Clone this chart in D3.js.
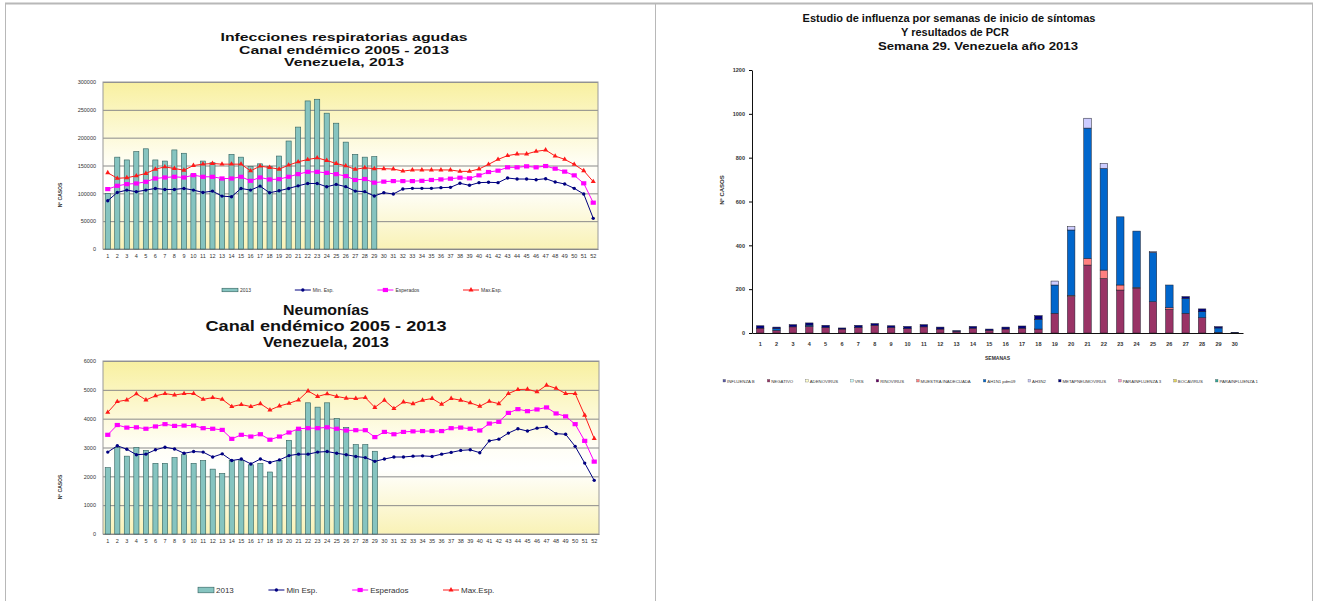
<!DOCTYPE html>
<html>
<head>
<meta charset="utf-8">
<script src="https://d3js.org/d3.v7.min.js"></script>
<style>
  body { margin: 0; background: #fff; }
  svg text { font-family: "Liberation Sans", Arial, sans-serif; }
  .grid line { stroke: #8a8a8a; }
  .grid .domain { display: none; }
</style>
</head>
<body>
<svg id="page" width="1318" height="601"></svg>
<script>
// ---- datos: canal endemico (semanas 1-52) ----
const semanas52 = [1,2,3,4,5,6,7,8,9,10,11,12,13,14,15,16,17,18,19,20,21,22,23,24,25,26,
  27,28,29,30,31,32,33,34,35,36,37,38,39,40,41,42,43,44,45,46,47,48,49,50,51,52];

// Infecciones respiratorias agudas
const iraTitulo = ["Infecciones respiratorias agudas", "Canal endémico 2005 - 2013", "Venezuela, 2013"];
const iraTicks = [0, 50000, 100000, 150000, 200000, 250000, 300000];
const iraCasos2013 = [100000,165000,160000,175000,180000,160000,158000,178000,172000,135000,158000,155000,125000,170000,
  165000,148000,153000,148000,167000,194000,219000,266000,269000,244000,226000,192000,170000,165000,166000];
const iraMin = [86600,101600,105800,102800,105800,108800,107000,107000,108800,105800,101600,104000,95000,93800,108800,
  105800,113000,101000,104600,108800,113500,117700,117700,111800,116000,112000,104000,103000,95200,101200,98800,107800,
  109000,109000,109000,110200,110800,118000,114400,119200,119800,119200,127500,125700,125700,124500,126300,120400,116800,
  109000,98800,55100];
const iraEsperados = [107600,113500,116500,117700,120700,126700,128500,129700,128500,132700,129700,129700,126700,126700,
  129700,122500,128500,124900,125500,129700,134500,138600,138600,136800,134500,131000,124000,125700,119200,121000,122000,
  122000,122000,122500,124000,125000,126300,128000,127000,132300,138300,140700,146700,146700,148500,146700,149000,144300,
  139000,132300,118000,83200];
const iraMax = [137000,127000,128000,131500,135600,143400,147600,144600,141600,150000,152400,153600,152400,152400,152400,
  140400,148800,146400,143400,150600,156600,160700,163700,159000,153600,149400,143000,146000,144300,144300,143700,140000,
  142000,142000,142000,142000,142000,139500,139500,143700,152000,161000,167700,170700,170700,175400,177800,167000,161000,
  152000,140700,121000];
const iraLeyenda = ["2013", "Min. Esp.", "Esperados", "Max.Esp."];

// Neumonias
const neuTitulo = ["Neumonías", "Canal endémico 2005 - 2013", "Venezuela, 2013"];
const neuTicks = [0, 1000, 2000, 3000, 4000, 5000, 6000];
const neuCasos2013 = [2300,3000,2700,3000,2900,2450,2450,2650,2750,2450,2550,2250,2100,2550,2550,2400,2450,2150,2550,
  3250,3600,4550,4400,4550,4000,3700,3100,3100,2870];
const neuMin = [2840,3060,2940,2750,2770,2920,3010,2950,2800,2860,2840,2670,2780,2550,2600,2430,2600,2480,2570,2720,2770,
  2770,2840,2860,2800,2750,2690,2650,2520,2600,2670,2670,2700,2710,2690,2770,2830,2900,2920,2820,3230,3290,3500,3650,3570,
  3670,3710,3480,3460,3040,2460,1860];
const neuEsperados = [3440,3780,3690,3700,3650,3730,3810,3750,3760,3760,3670,3650,3610,3300,3440,3380,3460,3270,3380,3520,
  3650,3670,3670,3700,3650,3590,3600,3600,3360,3540,3460,3540,3560,3570,3570,3570,3670,3690,3650,3590,3830,3890,4200,4330,
  4260,4320,4390,4180,4080,3810,3230,2510];
const neuMax = [4220,4590,4650,4860,4650,4790,4870,4820,4870,4870,4670,4730,4670,4420,4490,4420,4520,4300,4440,4530,4650,
  4960,4770,4860,4770,4710,4700,4730,4390,4640,4350,4580,4520,4640,4700,4500,4700,4640,4550,4430,4600,4520,4870,5010,5020,
  4930,5160,5050,4870,4870,4120,3310];
const neuLeyenda = ["2013", "Min Esp.", "Esperados", "Max.Esp."];

// ---- datos: estudio de influenza (semanas 1-30) ----
const fluTitulo = ["Estudio de influenza por semanas de inicio de síntomas", "Y resultados de PCR", "Semana 29. Venezuela año 2013"];
const semanas30 = [1,2,3,4,5,6,7,8,9,10,11,12,13,14,15,16,17,18,19,20,21,22,23,24,25,26,27,28,29,30];
const fluTicks = [0, 200, 400, 600, 800, 1000, 1200];
const fluSeries = ["INFLUENZA B", "NEGATIVO", "ADENOVIRUS", "VRS", "RINOVIRUS", "MUESTRA INADECUADA", "AH1N1 pdm09",
  "AH3N2", "METAPNEUMOVIRUS", "PARAINFLUENZA 3", "BOCAVIRUS", "PARAINFLUENZA 1"];
const fluColores = ["#5a5aa8", "#993366", "#ffffcc", "#ccffff", "#660066", "#ff8080", "#0066cc",
  "#ccccff", "#000080", "#ff99cc", "#e6d65c", "#33a899"];
const influenzaB  = [0,0,0,0,0,0,0,0,0,0,0,0,0,0,0,0,0,0,0,0,0,0,0,0,0,0,0,0,0,0];
const negativo    = [22,12,28,30,25,18,25,35,25,20,28,18,7,22,12,18,22,18,90,166,310,249,196,204,143,108,90,70,3,0];
const adenovirus  = [0,0,0,0,0,0,0,0,0,0,0,0,0,0,0,0,0,0,0,0,0,0,0,0,0,0,0,0,0,0];
const vrs         = [0,0,0,0,0,0,0,0,0,0,0,0,0,0,0,0,0,0,0,0,0,0,0,0,0,0,0,0,0,0];
const rinovirus   = [0,0,0,0,0,0,0,0,0,0,0,0,0,0,0,0,0,0,0,0,0,0,0,0,0,0,0,0,0,0];
const inadecuada  = [0,0,0,0,0,0,0,0,0,0,0,0,0,0,0,0,0,0,0,6,30,38,23,4,0,7,0,0,0,0];
const ah1n1       = [0,8,0,6,0,0,0,0,0,0,0,0,0,0,0,0,0,45,129,298,595,464,311,257,225,104,68,27,20,2];
const ah3n2       = [0,0,0,0,0,0,0,0,0,0,0,0,0,0,0,0,0,0,18,15,45,23,0,0,3,0,0,0,0,0];
const metapneumo  = [11,7,10,10,10,5,10,8,8,10,10,9,4,8,6,9,10,16,0,0,0,0,0,0,0,0,8,13,6,1];
const parainf3    = [0,0,0,0,0,0,0,0,0,0,0,0,0,0,0,0,0,0,0,0,0,0,0,0,0,0,0,0,0,0];
const bocavirus   = [0,0,0,0,0,0,0,0,0,0,0,0,0,0,0,0,0,0,0,0,0,0,0,0,0,0,0,0,0,0];
const parainf1    = [0,0,0,0,0,0,0,0,0,0,0,0,0,0,0,0,0,0,0,0,0,0,0,0,0,0,0,0,0,0];

const svg = d3.select("#page");
const defs = svg.append("defs");

// yellow - white - yellow fill like the excel plot area
const grad = defs.append("linearGradient").attr("id", "fondo")
  .attr("x1", 0).attr("y1", 0).attr("x2", 0).attr("y2", 1);
[[0, "#f8f0a0"], [0.48, "#fffef4"], [0.62, "#ffffff"], [1, "#f9f2b6"]]
  .forEach(([o, c]) => grad.append("stop").attr("offset", o).attr("stop-color", c));

// frame of the slide table
const frame = svg.append("g").attr("stroke", "#b8b8b8");
frame.append("line").attr("x1", 5).attr("x2", 1313).attr("y1", 3.5).attr("y2", 3.5).attr("stroke-width", 2);
frame.append("line").attr("x1", 5.5).attr("x2", 5.5).attr("y1", 3).attr("y2", 601);
frame.append("line").attr("x1", 655.5).attr("x2", 655.5).attr("y1", 3).attr("y2", 601);
frame.append("line").attr("x1", 1312.5).attr("x2", 1312.5).attr("y1", 3).attr("y2", 601);

function drawCanal(cfg) {
  const g = svg.append("g");
  const x = d3.scaleBand().domain(semanas52).range([cfg.left, cfg.right])
    .paddingInner(0.46).paddingOuter(0.23);
  const y = d3.scaleLinear().domain([0, d3.max(cfg.ticks)]).range([cfg.bottom, cfg.top]);
  const cx = w => x(w) + x.bandwidth() / 2;

  // titles
  cfg.title.forEach((t, i) => {
    g.append("text")
      .attr("x", cfg.titleX).attr("y", cfg.titleY + i * cfg.titleGap)
      .attr("text-anchor", "middle").attr("font-weight", "bold")
      .attr("font-size", cfg.titleSize).attr("fill", "#111")
      .attr("textLength", cfg.titleWidths[i]).attr("lengthAdjust", "spacingAndGlyphs")
      .text(t);
  });

  g.append("rect").attr("x", cfg.left).attr("y", cfg.top)
    .attr("width", cfg.right - cfg.left).attr("height", cfg.bottom - cfg.top)
    .attr("fill", "url(#fondo)");

  // gridlines + y labels
  g.append("g").attr("class", "grid")
    .attr("transform", "translate(" + cfg.left + ",0)")
    .call(d3.axisLeft(y).tickValues(cfg.ticks).tickSize(-(cfg.right - cfg.left))
      .tickPadding(7).tickFormat(d3.format("d")))
    .call(a => a.selectAll("text").attr("font-size", cfg.tickSize).attr("fill", "#333"));

  g.append("rect").attr("x", cfg.left).attr("y", cfg.top)
    .attr("width", cfg.right - cfg.left).attr("height", cfg.bottom - cfg.top)
    .attr("fill", "none").attr("stroke", "#9a9a9a");

  // x labels
  g.append("g").attr("transform", "translate(0," + cfg.bottom + ")")
    .call(d3.axisBottom(x).tickSize(0).tickPadding(5))
    .call(a => a.select(".domain").attr("stroke", "#888"))
    .call(a => a.selectAll("text").attr("font-size", cfg.tickSize).attr("fill", "#333"));

  // 2013 bars
  const barData = cfg.bars.map((v, i) => ({ w: semanas52[i], v }));
  g.selectAll("rect.bar").data(barData).join("rect")
    .attr("class", "bar")
    .attr("x", d => x(d.w)).attr("width", x.bandwidth())
    .attr("y", d => y(d.v)).attr("height", d => y(0) - y(d.v))
    .attr("fill", "#86c4c0").attr("stroke", "#2f5f5c").attr("stroke-width", 0.6);

  // channel lines
  const series = [
    { vals: cfg.max, color: "#ff1a1a", mark: "tri" },
    { vals: cfg.esp, color: "#ff00ff", mark: "sq" },
    { vals: cfg.min, color: "#000080", mark: "dot" }
  ];
  const line = d3.line().x((d, i) => cx(semanas52[i])).y(d => y(d));
  series.forEach(s => {
    g.append("path").datum(s.vals).attr("d", line)
      .attr("fill", "none").attr("stroke", s.color).attr("stroke-width", 1);
    const pts = g.append("g").selectAll("path").data(s.vals).join("path")
      .attr("transform", (d, i) => "translate(" + cx(semanas52[i]) + "," + y(d) + ")")
      .attr("fill", s.color);
    if (s.mark === "tri") pts.attr("d", d3.symbol(d3.symbolTriangle, 11));
    if (s.mark === "sq") pts.attr("d", "M-2.6,-2.1h5.2v4.2h-5.2z");
    if (s.mark === "dot") pts.attr("d", d3.symbol(d3.symbolCircle, 9));
  });

  // y title
  g.append("text")
    .attr("transform", "translate(" + cfg.yLabelX + "," + cfg.yLabelY + ") rotate(-90)")
    .attr("text-anchor", "middle").attr("font-size", cfg.tickSize - 0.5).attr("font-weight", "bold")
    .attr("fill", "#333").text("Nº CASOS");

  // legend
  const leg = g.append("g").attr("font-size", cfg.legendSize).attr("fill", "#333");
  const items = cfg.legend.map((lab, i) => {
    const it = leg.append("g");
    if (i === 0) {
      it.append("rect").attr("x", 0).attr("y", -cfg.legendSize * 0.35)
        .attr("width", cfg.legendMarkW).attr("height", cfg.legendSize * 0.7)
        .attr("fill", "#86c4c0").attr("stroke", "#2f5f5c").attr("stroke-width", 0.6);
    } else {
      const s = series[3 - i];
      it.append("line").attr("x1", 0).attr("x2", cfg.legendMarkW)
        .attr("stroke", s.color).attr("stroke-width", 1);
      const m = it.append("path").attr("transform", "translate(" + cfg.legendMarkW / 2 + ",0)").attr("fill", s.color);
      if (s.mark === "tri") m.attr("d", d3.symbol(d3.symbolTriangle, 11));
      if (s.mark === "sq") m.attr("d", "M-2.6,-2.1h5.2v4.2h-5.2z");
      if (s.mark === "dot") m.attr("d", d3.symbol(d3.symbolCircle, 9));
    }
    const t = it.append("text").attr("x", cfg.legendMarkW + 2).attr("dy", "0.35em").text(lab);
    return { it, w: cfg.legendMarkW + 2 + t.node().getComputedTextLength() };
  });
  const used = d3.sum(items.slice(0, 3), d => d.w);
  const gap = (cfg.legendLastX - cfg.legendX - used) / 3;
  let xx = cfg.legendX;
  items.forEach(d => {
    d.it.attr("transform", "translate(" + xx + "," + cfg.legendY + ")");
    xx += d.w + gap;
  });
}

drawCanal({
  left: 103, right: 598, top: 82, bottom: 249,
  ticks: iraTicks, bars: iraCasos2013, min: iraMin, esp: iraEsperados, max: iraMax,
  title: iraTitulo, titleX: 344, titleY: 41, titleGap: 12.5, titleSize: 11, titleWidths: [247, 210, 120],
  tickSize: 5.5, yLabelX: 62, yLabelY: 195,
  legend: iraLeyenda, legendX: 222, legendLastX: 463, legendY: 290, legendSize: 5, legendMarkW: 16
});

drawCanal({
  left: 103, right: 599, top: 361, bottom: 534,
  ticks: neuTicks, bars: neuCasos2013, min: neuMin, esp: neuEsperados, max: neuMax,
  title: neuTitulo, titleX: 326, titleY: 315, titleGap: 16, titleSize: 14, titleWidths: [86, 241, 126],
  tickSize: 5.5, yLabelX: 62, yLabelY: 487,
  legend: neuLeyenda, legendX: 198, legendLastX: 443, legendY: 590, legendSize: 8, legendMarkW: 16
});

// ---- influenza stacked bars ----
(function drawFlu() {
  const g = svg.append("g");
  const left = 752, right = 1243, top = 70, bottom = 333;
  const x = d3.scaleBand().domain(semanas30).range([left, right]).paddingInner(0.54).paddingOuter(0.27);
  const y = d3.scaleLinear().domain([0, d3.max(fluTicks)]).range([bottom, top]);
  const color = d3.scaleOrdinal().domain(fluSeries).range(fluColores);

  const valores = [influenzaB, negativo, adenovirus, vrs, rinovirus, inadecuada, ah1n1, ah3n2,
    metapneumo, parainf3, bocavirus, parainf1];
  const rows = semanas30.map((w, i) => {
    const r = { semana: w };
    fluSeries.forEach((s, k) => { r[s] = valores[k][i]; });
    return r;
  });
  const stacked = d3.stack().keys(fluSeries)(rows);

  // title lines: centre (and width of the last, wider line) as in the slide
  const tituloPos = [{ x: 949, w: null }, { x: 955, w: null }, { x: 978, w: 200 }];
  fluTitulo.forEach((t, i) => {
    const tx = g.append("text").attr("x", tituloPos[i].x).attr("y", 22 + i * 14)
      .attr("text-anchor", "middle").attr("font-weight", "bold").attr("font-size", 11)
      .attr("fill", "#111").text(t);
    if (tituloPos[i].w) tx.attr("textLength", tituloPos[i].w).attr("lengthAdjust", "spacingAndGlyphs");
  });

  g.selectAll("g.serie").data(stacked).join("g")
    .attr("class", "serie").attr("fill", d => color(d.key))
    .selectAll("rect").data(d => d.filter(p => p[1] > p[0])).join("rect")
    .attr("x", d => x(d.data.semana)).attr("width", x.bandwidth())
    .attr("y", d => y(d[1])).attr("height", d => y(d[0]) - y(d[1]))
    .attr("stroke", "#1d1d2a").attr("stroke-width", 0.5);

  g.append("g").attr("transform", "translate(" + left + ",0)")
    .call(d3.axisLeft(y).tickValues(fluTicks).tickSize(3).tickSizeOuter(0).tickPadding(4)
      .tickFormat(d3.format("d")))
    .call(a => a.select(".domain").attr("stroke", "#111"))
    .call(a => a.selectAll("text").attr("font-size", 5.5).attr("font-weight", "bold").attr("fill", "#333"));

  g.append("g").attr("transform", "translate(0," + bottom + ")")
    .call(d3.axisBottom(x).tickSize(0).tickSizeOuter(0).tickPadding(9))
    .call(a => a.select(".domain").attr("stroke", "#111").attr("stroke-width", 1.2))
    .call(a => a.selectAll("text").attr("font-size", 5.5).attr("font-weight", "bold").attr("fill", "#333"));

  g.append("text").attr("x", (left + right) / 2).attr("y", 360)
    .attr("text-anchor", "middle").attr("font-size", 5).attr("font-weight", "bold")
    .attr("fill", "#333").text("SEMANAS");

  g.append("text").attr("transform", "translate(724,190) rotate(-90)")
    .attr("text-anchor", "middle").attr("font-size", 6).attr("font-weight", "bold")
    .attr("fill", "#333").text("Nº CASOS");

  // legend in one row
  const leg = g.append("g").attr("font-size", 4.3).attr("fill", "#333");
  const items = fluSeries.map(s => {
    const it = leg.append("g");
    it.append("rect").attr("x", 0).attr("y", -1.6).attr("width", 2.6).attr("height", 2.6)
      .attr("fill", color(s)).attr("stroke", "#555").attr("stroke-width", 0.3);
    const t = it.append("text").attr("x", 4).attr("dy", "0.35em").text(s);
    return { it, w: 4 + t.node().getComputedTextLength() };
  });
  const used = d3.sum(items, d => d.w);
  const gap = (1258 - 723 - used) / (items.length - 1);
  let xx = 723;
  items.forEach(d => {
    d.it.attr("transform", "translate(" + xx + ",381)");
    xx += d.w + gap;
  });
})();
</script>
</body>
</html>
